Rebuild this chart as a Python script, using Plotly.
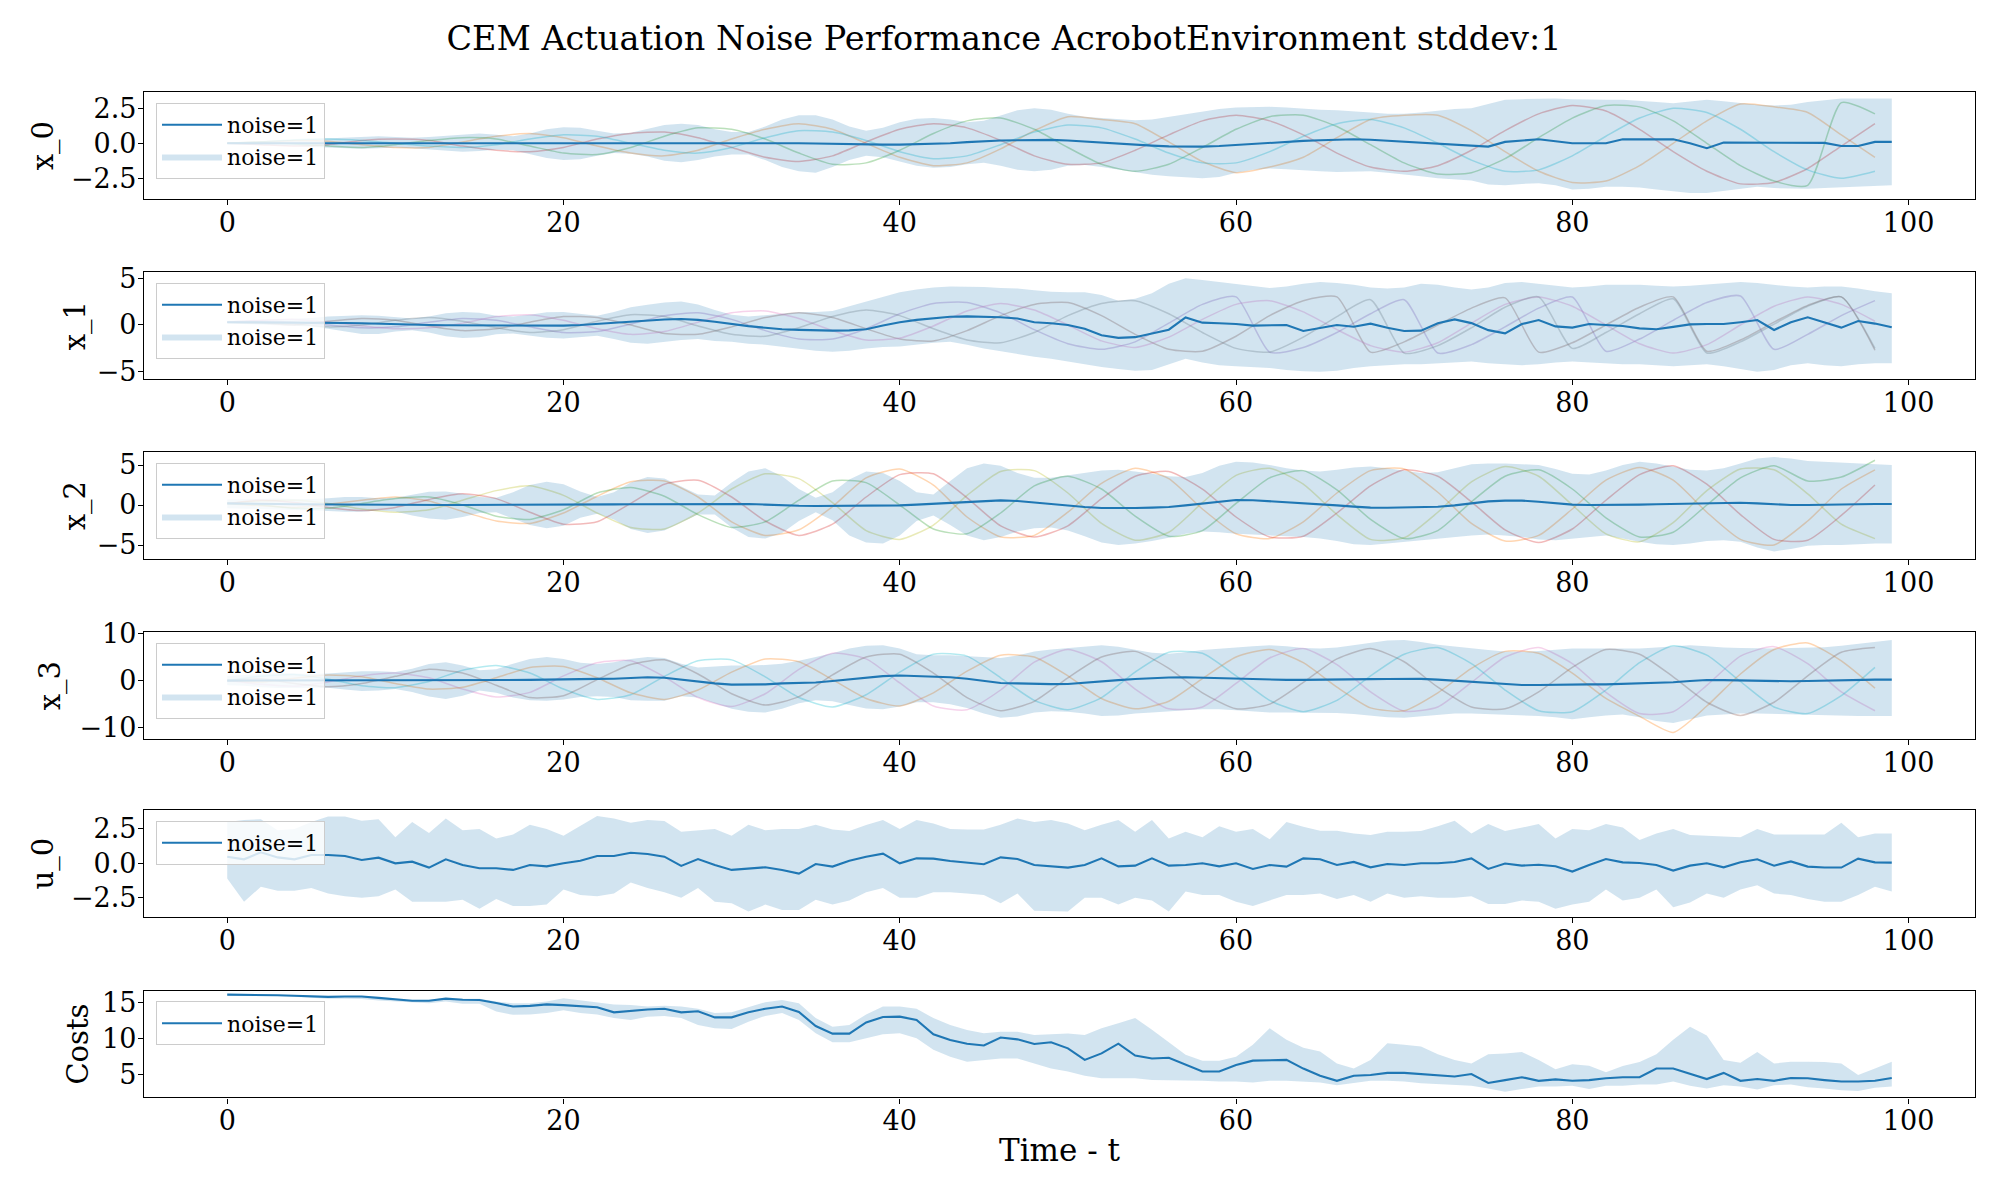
import plotly.graph_objects as go

t = list(range(100))
t2 = list(range(0, 100, 2))

# ---------------- x_0 ----------------
x0_mean = [0,0,0,0,0,0,0,0,0,0,
           0,0,0,0,0,0,0,0,0,0,
           0,0,0.02,0.03,0.04,0.05,0.05,0.05,0.05,0.05,
           0.05,0.04,0.03,0.02,0.0,-0.02,-0.05,-0.08,-0.1,-0.1,
           -0.1,-0.08,-0.05,0.0,0.08,0.15,0.2,0.22,0.24,0.24,
           0.2,0.12,0.05,-0.02,-0.1,-0.17,-0.22,-0.24,-0.24,-0.2,
           -0.12,-0.05,0.03,0.1,0.17,0.22,0.27,0.29,0.25,0.18,
           0.12,0.05,-0.05,-0.12,-0.2,-0.24,0.1,0.2,0.29,0.15,
           0.0,0.0,0.0,0.28,0.28,0.28,0.28,0.0,-0.35,0.05,
           0.05,0.05,0.05,0.05,0.05,0.03,-0.2,-0.2,0.1,0.1]
x0_upper = [0.05,0.1,0.15,0.2,0.25,0.3,0.35,0.45,0.5,0.5,
            0.45,0.4,0.45,0.55,0.65,0.7,0.6,0.5,0.7,1.0,
            1.15,1.1,0.9,0.7,0.75,1.0,1.3,1.4,1.3,1.0,
            0.8,0.8,1.2,1.7,2.0,2.0,1.7,1.2,0.9,1.1,
            1.5,1.75,1.8,1.7,1.5,1.6,2.0,2.35,2.5,2.4,
            2.1,1.9,1.8,1.7,1.65,1.7,1.9,2.1,2.3,2.45,
            2.55,2.6,2.6,2.55,2.45,2.4,2.35,2.3,2.2,2.1,
            2.1,2.2,2.35,2.45,2.5,2.8,3.1,3.15,3.2,3.2,
            3.15,3.1,3.1,3.1,3.05,2.95,2.85,3.0,3.1,3.0,
            2.85,2.75,2.7,2.75,2.95,3.1,3.2,3.2,3.2,3.2]
x0_lower = [-0.05,-0.1,-0.15,-0.2,-0.2,-0.25,-0.3,-0.35,-0.4,-0.35,
            -0.3,-0.35,-0.45,-0.55,-0.6,-0.55,-0.45,-0.5,-0.8,-1.05,
            -1.2,-1.15,-0.9,-0.7,-0.75,-0.95,-1.25,-1.35,-1.2,-0.95,
            -0.8,-0.8,-1.2,-1.7,-2.0,-2.1,-1.7,-1.2,-0.9,-1.0,
            -1.3,-1.6,-1.75,-1.7,-1.5,-1.4,-1.6,-1.9,-2.0,-1.9,
            -1.6,-1.55,-1.7,-1.9,-2.1,-2.25,-2.35,-2.45,-2.5,-2.4,
            -2.1,-1.9,-1.8,-1.85,-1.95,-2.0,-2.05,-2.0,-2.0,-2.1,
            -2.2,-2.35,-2.5,-2.6,-2.65,-2.95,-3.0,-2.9,-2.85,-3.0,
            -3.3,-3.25,-3.1,-3.1,-3.15,-3.3,-3.45,-3.55,-3.55,-3.4,
            -3.2,-3.1,-3.2,-3.25,-3.25,-3.2,-3.15,-3.1,-3.05,-3.0]
x0_runs = [
    [0,0.1,0.2,0.15,-0.1,-0.3,-0.3,0.1,0.5,0.7,
     0.4,-0.2,-0.7,-0.9,-0.5,0.3,1.0,1.4,1.0,0.0,
     -1.0,-1.6,-1.4,-0.4,0.9,1.9,1.7,1.4,0.1,-1.3,
     -2.1,-1.7,-1.0,0.4,1.7,2.0,2.0,0.9,-0.6,-2.0,
     -2.8,-2.7,-1.6,0.0,1.6,2.8,2.6,2.2,0.6,-1.0],
    [0,-0.1,-0.2,-0.1,0.2,0.3,0.2,-0.2,-0.5,-0.6,
     -0.3,0.3,0.7,0.8,0.4,-0.3,-1.0,-1.3,-0.9,0.1,
     1.0,1.4,1.1,0.2,-0.9,-1.5,-1.4,-0.5,0.6,1.6,
     2.0,1.6,0.6,-0.7,-1.7,-2.0,-1.6,-0.5,0.9,2.1,
     2.7,2.3,1.0,-0.6,-2.0,-2.9,-2.8,-1.8,-0.2,1.4],
    [0,0.05,-0.05,-0.2,-0.3,-0.1,0.2,0.4,0.3,-0.2,
     -0.7,-0.8,-0.3,0.5,1.1,1.0,0.3,-0.7,-1.5,-1.4,
     -0.5,0.7,1.6,1.8,1.0,-0.3,-1.5,-2.0,-1.5,-0.3,
     1.0,1.9,2.0,1.2,-0.1,-1.4,-2.2,-2.1,-1.1,0.4,
     1.8,2.7,2.6,1.6,0.0,-1.6,-2.7,-3.0,2.9,2.1],
    [0,0.1,0.25,0.3,0.2,0.0,-0.2,-0.3,-0.1,0.3,
     0.6,0.5,0.0,-0.5,-0.7,-0.3,0.4,0.9,0.8,0.2,
     -0.6,-1.1,-0.9,-0.1,0.8,1.3,1.1,0.3,-0.7,-1.4,
     -1.4,-0.6,0.5,1.4,1.7,1.1,0.0,-1.2,-2.0,-1.9,
     -0.9,0.5,1.8,2.5,2.2,1.0,-0.6,-1.9,-2.5,-2.0],
]

# ---------------- x_1 ----------------
x1_mean = [0.3,0.3,0.3,0.3,0.3,0.28,0.28,0.22,0.18,0.12,
           0.06,0.02,0.0,-0.02,-0.03,-0.03,-0.04,-0.05,-0.06,-0.07,
           -0.07,0.0,0.12,0.25,0.36,0.48,0.58,0.64,0.55,0.35,
           0.1,-0.12,-0.3,-0.45,-0.52,-0.57,-0.6,-0.58,-0.45,-0.05,
           0.3,0.55,0.75,0.88,0.92,0.9,0.82,0.7,0.3,0.18,
           0.0,-0.4,-1.1,-1.38,-1.3,-0.9,-0.5,0.8,0.25,0.18,
           0.1,-0.07,0.0,0.0,-0.64,-0.28,0.0,-0.18,0.14,-0.3,
           -0.64,-0.6,0.18,0.6,0.2,-0.55,-0.89,0.1,0.53,-0.15,
           -0.28,0.1,0.0,-0.1,-0.36,-0.46,-0.2,0.07,0.1,0.1,
           0.3,0.53,-0.53,0.3,0.82,0.3,-0.28,0.43,0.15,-0.25]
x1_upper = [0.45,0.5,0.55,0.6,0.65,0.75,0.9,1.0,1.05,1.0,
            0.85,0.7,0.9,1.25,1.4,1.3,1.0,0.9,1.1,1.35,
            1.4,1.2,1.0,1.4,1.9,2.15,2.4,2.5,2.2,1.6,
            1.1,0.9,1.05,1.25,1.35,1.4,1.5,2.0,2.5,3.0,
            3.5,3.8,4.0,4.1,4.1,4.05,3.95,3.9,3.7,3.55,
            3.5,3.5,3.2,2.6,2.8,3.4,4.4,5.0,4.8,4.6,
            4.4,4.2,3.95,4.1,4.4,4.6,4.5,4.3,4.0,3.9,
            4.0,4.4,4.3,4.0,3.8,4.0,4.5,4.6,4.4,4.2,
            4.0,4.1,4.3,4.3,4.3,4.2,4.1,4.2,4.35,4.5,
            4.6,4.5,4.3,4.1,4.0,4.1,4.1,3.9,3.6,3.4]
x1_lower = [0.15,0.1,0.05,0.0,-0.05,-0.15,-0.4,-0.7,-0.95,-0.95,
            -0.7,-0.55,-0.8,-1.2,-1.4,-1.3,-1.0,-0.9,-1.1,-1.35,
            -1.45,-1.3,-1.15,-1.5,-1.9,-2.0,-1.8,-1.6,-1.5,-1.7,
            -1.8,-2.0,-2.1,-2.3,-2.55,-2.75,-2.85,-2.75,-2.5,-2.35,
            -2.3,-2.1,-1.9,-1.8,-2.1,-2.5,-2.8,-3.1,-3.4,-3.6,
            -3.9,-4.2,-4.5,-4.7,-4.9,-4.8,-4.2,-3.6,-4.0,-4.3,
            -4.4,-4.5,-4.6,-4.8,-4.95,-5.0,-4.9,-4.6,-4.4,-4.3,
            -4.2,-4.2,-4.1,-4.0,-3.9,-4.1,-4.2,-4.3,-4.2,-4.0,
            -3.9,-4.0,-4.1,-4.2,-4.2,-4.3,-4.4,-4.3,-4.2,-4.4,
            -4.7,-5.0,-4.8,-4.3,-4.1,-4.3,-4.4,-4.2,-4.1,-4.1]
x1_runs = [
    [0.3,0.4,0.3,0.0,-0.3,-0.2,0.3,0.7,0.5,-0.2,
     -0.8,-0.7,0.1,1.0,1.3,0.6,-0.6,-1.5,-1.5,-0.4,
     1.2,2.3,2.4,1.3,-0.5,-2.0,-2.6,-1.8,0.2,2.2,
     3.0,-2.9,-2.4,-0.8,1.2,2.7,-3.0,-2.1,-0.2,1.8,
     3.0,-2.8,-1.5,0.5,2.4,3.1,-2.6,-1.0,1.0,2.6],
    [0.3,0.2,0.0,0.4,0.7,0.5,-0.1,-0.6,-0.4,0.3,
     0.9,0.8,0.0,-0.9,-1.0,-0.2,0.8,1.3,0.8,-0.4,
     -1.5,-1.7,-0.6,1.0,2.2,2.4,1.0,-1.0,-2.6,-2.8,
     -1.2,1.0,2.6,3.0,-2.9,-1.8,0.0,1.8,2.9,-2.9,
     -1.9,0.0,1.9,3.0,-2.8,-1.6,0.3,2.1,3.0,-2.7],
    [0.3,0.5,0.6,0.3,-0.1,-0.4,-0.3,0.2,0.9,1.1,
     0.5,-0.4,-1.0,-0.7,0.3,1.3,1.5,0.7,-0.6,-1.6,
     -1.4,-0.1,1.5,2.3,1.6,0.0,-1.7,-2.4,-1.3,0.6,
     2.2,2.6,1.4,-0.5,-2.2,-2.9,-1.9,0.2,2.2,3.0,
     2.0,0.0,-2.0,-3.0,-2.1,0.0,2.0,3.0,2.2,0.4],
    [0.3,0.3,0.1,-0.2,0.0,0.5,0.8,0.4,-0.3,-0.8,
     -0.5,0.4,1.1,0.9,-0.1,-1.0,-1.2,-0.3,0.9,1.6,
     1.0,-0.4,-1.6,-1.9,-0.8,1.0,2.3,2.6,1.2,-0.8,
     -2.5,-2.9,-1.3,0.9,2.7,-3.0,-2.2,-0.3,1.9,3.0,
     -2.5,-0.8,1.2,2.8,-3.0,-1.8,0.1,2.0,3.0,-2.5],
]

# ---------------- x_2 ----------------
x2_mean = [0.2,0.2,0.15,0.12,0.1,0.08,0.05,0.03,0.02,0.0,
           0,0,0,0,0,0,0,0.02,0.03,0.03,
           0.03,0.05,0.06,0.08,0.1,0.1,0.12,0.14,0.16,0.17,
           0.17,0.12,0.05,-0.05,-0.1,-0.12,-0.12,-0.1,-0.08,-0.05,
           -0.05,0.05,0.15,0.3,0.42,0.52,0.58,0.5,0.3,0.1,
           -0.05,-0.25,-0.38,-0.42,-0.38,-0.33,-0.25,-0.05,0.2,0.45,
           0.62,0.6,0.48,0.4,0.25,0.1,-0.05,-0.2,-0.33,-0.35,
           -0.33,-0.3,-0.22,-0.05,0.2,0.45,0.55,0.55,0.4,0.2,
           0.05,0,0,0,0.05,0.1,0.15,0.2,0.25,0.3,
           0.28,0.2,0.1,0,0,0.05,0.1,0.12,0.12,0.12]
x2_upper = [0.7,0.75,0.8,0.8,0.75,0.75,0.85,1.0,1.0,0.85,
            0.9,1.3,1.65,1.7,1.4,1.0,0.9,1.6,2.5,2.9,
            2.6,1.7,1.0,1.6,2.8,3.5,3.3,2.3,1.3,1.2,
            2.8,4.2,4.6,3.6,2.0,0.9,1.6,3.2,4.2,4.0,
            3.0,1.6,1.3,3.0,4.6,5.2,4.9,4.0,3.4,3.4,
            3.7,4.0,4.3,4.4,4.2,3.9,3.6,3.5,4.0,4.9,
            5.4,5.3,5.0,4.6,4.3,4.2,4.4,4.7,4.8,4.6,
            4.3,4.0,4.1,4.6,5.1,5.2,5.2,5.1,5.0,4.5,
            3.9,3.8,4.3,5.0,5.4,5.2,4.8,4.4,4.3,4.6,
            5.2,5.8,6.0,5.8,5.5,5.4,5.3,5.2,5.1,5.0]
x2_lower = [-0.4,-0.45,-0.5,-0.55,-0.6,-0.65,-0.75,-0.85,-0.85,-0.7,
            -0.8,-1.3,-1.7,-1.85,-1.5,-1.0,-0.9,-1.7,-2.5,-2.9,
            -2.6,-1.6,-1.1,-1.8,-3.0,-3.5,-3.2,-2.2,-1.2,-1.2,
            -2.8,-4.0,-4.2,-3.5,-2.0,-0.9,-1.9,-3.8,-4.7,-4.8,
            -3.8,-2.0,-1.3,-2.5,-3.8,-4.4,-4.0,-3.3,-2.9,-2.8,
            -3.2,-3.9,-4.7,-5.0,-4.8,-4.5,-4.1,-3.6,-3.3,-3.4,
            -3.6,-3.7,-3.8,-3.9,-4.0,-4.2,-4.5,-4.9,-5.0,-4.8,
            -4.6,-4.4,-4.2,-4.0,-3.8,-3.7,-3.8,-4.0,-4.3,-4.4,
            -4.2,-4.0,-3.8,-4.2,-4.6,-4.9,-5.0,-4.8,-4.5,-4.4,
            -4.6,-5.3,-5.8,-5.5,-5.1,-5.0,-5.0,-4.9,-4.8,-4.8]
x2_runs = [
    [0.2,0.5,0.6,0.2,-0.5,-0.9,-0.6,0.6,1.8,2.4,
     1.2,-1.0,-2.8,-3.0,-1.0,2.0,3.9,3.3,0.3,-3.2,
     -4.3,-2.5,1.2,4.2,4.3,1.5,-2.3,-4.4,-3.4,0.3,
     3.7,4.6,2.6,-1.2,-4.3,-4.1,-0.9,2.9,4.8,3.6,
     0.0,-3.6,-4.6,-2.2,1.8,4.5,4.4,1.4,-2.4,-4.2],
    [0.2,-0.1,-0.3,0.1,0.6,1.0,0.5,-0.8,-2.0,-2.3,
     -1.0,1.1,2.9,3.0,1.0,-2.1,-3.8,-3.1,-0.2,3.4,
     4.5,2.5,-1.5,-4.0,-3.8,-0.9,2.7,4.6,3.3,-0.5,
     -3.6,-4.2,-2.1,1.5,4.3,4.5,1.6,-2.3,-4.5,-3.8,
     -0.5,3.1,4.7,3.1,-0.9,-4.3,-5.0,-2.0,2.0,4.4],
    [0.2,0.6,0.3,-0.3,-0.7,-0.3,0.7,1.4,0.8,-0.9,
     -2.4,-2.1,0.2,2.6,3.1,1.0,-2.0,-3.8,-2.4,1.0,
     3.8,3.9,0.9,-2.6,-4.0,-2.6,0.8,3.6,4.2,2.0,
     -1.5,-4.0,-3.9,-1.0,2.4,4.4,3.6,0.4,-3.1,-4.7,
     -3.0,0.6,3.8,4.9,2.6,-1.2,-4.3,-4.4,-1.3,2.5],
    [0.2,0.0,-0.4,-0.4,0.2,0.8,1.0,0.0,-1.4,-1.8,
     -0.6,1.5,2.2,1.1,-1.2,-2.8,-2.1,0.6,3.0,2.8,
     0.0,-3.0,-3.6,-1.0,2.4,3.6,2.0,-1.4,-3.9,-3.2,
     0.2,3.4,4.3,1.9,-1.8,-4.2,-3.2,0.4,3.6,4.4,
     2.0,-1.6,-4.0,-3.4,0.0,3.4,4.9,3.0,3.5,5.6],
]

# ---------------- x_3 ----------------
x3_mean = [0,0,0,0,0,0,0,0,0,0,
           0,0,0,0,0,0,0.05,0.1,0.15,0.2,
           0.3,0.35,0.36,0.4,0.55,0.7,0.6,0.2,-0.3,-0.6,
           -0.85,-0.9,-0.8,-0.6,-0.5,-0.4,-0.1,0.3,0.7,0.95,
           1.07,1.0,0.85,0.7,0.4,0.0,-0.5,-0.6,-0.7,-0.75,
           -0.72,-0.5,-0.2,0.1,0.35,0.55,0.65,0.7,0.6,0.45,
           0.36,0.3,0.2,0.15,0.15,0.15,0.15,0.2,0.3,0.35,
           0.36,0.36,0.2,0.0,-0.2,-0.4,-0.7,-0.93,-0.95,-0.85,
           -0.8,-0.8,-0.8,-0.7,-0.55,-0.5,-0.35,-0.1,0.14,0.1,
           0,-0.1,-0.15,-0.15,-0.1,0,0,0.1,0.2,0.2]
x3_upper = [1.0,1.2,1.4,1.6,1.5,1.4,1.5,1.8,2.0,2.0,
            1.8,2.5,3.5,3.9,3.2,2.2,2.4,3.6,4.6,5.0,
            4.6,3.8,3.5,3.9,4.6,5.0,4.8,3.6,2.8,3.0,
            3.2,3.2,3.3,3.6,4.2,5.0,5.8,6.8,7.4,7.5,
            6.8,5.6,5.4,5.4,5.2,4.9,4.8,5.3,6.2,6.6,
            6.9,7.3,7.5,7.2,6.5,5.9,5.7,6.0,6.5,6.8,
            7.0,7.3,7.5,7.3,6.9,6.8,7.0,7.5,8.0,8.5,
            8.6,8.2,7.6,7.2,6.8,6.5,6.2,6.1,6.3,6.6,
            6.8,6.8,6.8,6.8,6.8,7.0,7.3,7.5,7.3,7.0,
            6.9,6.8,6.8,6.9,7.0,7.1,7.4,7.8,8.3,8.6]
x3_lower = [-1.0,-1.1,-1.4,-1.6,-1.6,-1.5,-1.5,-1.9,-2.2,-2.1,
            -1.8,-2.4,-3.4,-3.9,-3.2,-2.1,-2.6,-3.6,-4.2,-4.3,
            -4.0,-3.5,-3.3,-3.5,-4.2,-4.3,-4.3,-3.3,-3.6,-4.8,
            -6.0,-6.6,-6.8,-6.0,-4.8,-4.2,-4.4,-5.2,-5.9,-6.1,
            -5.5,-4.6,-4.6,-5.0,-5.8,-7.0,-7.9,-7.6,-6.8,-6.5,
            -6.6,-7.0,-7.5,-7.4,-7.0,-6.8,-6.5,-6.3,-6.1,-6.1,
            -6.3,-6.6,-6.8,-6.8,-6.8,-6.8,-6.9,-7.1,-7.4,-7.8,
            -7.9,-7.6,-7.3,-7.0,-7.0,-7.1,-7.2,-7.3,-7.5,-7.8,
            -8.2,-7.8,-7.4,-7.2,-7.8,-8.6,-9.0,-8.2,-7.4,-7.2,
            -7.0,-7.0,-7.1,-7.2,-7.3,-7.4,-7.5,-7.5,-7.5,-7.5]
x3_runs = [
    [0.0,-0.8,-1.2,-0.3,1.0,1.6,0.6,-1.8,-3.5,-2.5,
     1.0,3.8,4.2,0.8,-3.6,-5.5,-2.8,2.4,5.8,4.6,
     -0.5,-5.4,-6.2,-2.0,3.9,6.6,4.0,-1.8,-6.0,-5.6,
     -0.6,4.8,6.8,3.4,-2.4,-6.5,-5.6,-0.4,5.0,7.0,
     3.6,-2.5,-7.0,-6.6,-1.0,5.2,7.2,3.6,-2.4,-6.4],
    [0.0,0.9,1.3,0.3,-1.1,-1.5,-0.2,2.2,3.2,1.6,
     -1.8,-4.0,-3.0,0.9,4.2,4.4,0.8,-3.6,-5.6,-3.0,
     1.8,5.6,5.2,0.6,-4.2,-6.2,-3.6,1.8,6.0,5.8,
     1.0,-4.2,-6.6,-4.2,1.0,5.6,7.0,3.6,-2.0,-6.4,
     -6.6,-2.0,3.8,7.4,5.4,-0.2,-5.6,-7.0,-3.2,2.8],
    [0.0,0.4,-0.6,-1.3,-0.6,0.9,2.4,1.6,-1.0,-3.6,
     -3.2,0.2,3.4,4.4,1.4,-2.8,-5.2,-3.4,1.2,5.0,
     5.6,1.6,-3.6,-6.4,-4.4,0.6,5.0,6.2,2.6,-2.6,
     -6.0,-5.0,-0.4,4.6,6.8,4.0,-1.4,-5.6,-6.0,-2.4,
     2.8,6.6,5.6,0.8,-4.6,-7.4,-4.6,1.0,6.0,7.0],
    [0.0,-0.3,0.5,1.2,0.8,-0.6,-1.8,-1.4,0.6,2.8,
     3.0,0.6,-2.6,-4.0,-2.0,1.8,4.6,4.0,0.2,-3.8,
     -5.4,-2.6,2.0,5.4,5.0,1.0,-3.8,-6.0,-4.4,0.4,
     5.0,6.6,3.8,-1.4,-5.8,-6.4,-2.6,2.6,6.2,5.8,
     1.6,-3.8,-7.6,-11.0,-5.4,1.4,6.6,8.0,4.2,-1.6],
]

# ---------------- u_0 ----------------
u0_mean = [0.48,0.29,0.8,0.43,0.29,0.6,0.6,0.53,0.24,0.41,
           0.0,0.12,-0.31,0.29,-0.12,-0.36,-0.36,-0.48,-0.12,-0.22,
           0.0,0.19,0.53,0.53,0.77,0.68,0.48,-0.19,0.31,-0.12,
           -0.48,-0.36,-0.29,-0.48,-0.75,-0.05,-0.24,0.19,0.48,0.7,
           0.0,0.36,0.34,0.17,0.07,-0.07,0.43,0.31,-0.12,-0.19,
           -0.31,-0.12,0.36,-0.22,-0.17,0.36,-0.17,-0.12,0.0,-0.22,
           0.0,-0.41,-0.12,-0.24,0.36,0.29,-0.12,0.1,-0.29,-0.05,
           -0.12,0.0,0.0,0.1,0.36,-0.41,-0.02,-0.17,-0.1,-0.22,
           -0.6,-0.12,0.31,0.07,0.02,-0.12,-0.53,-0.17,0.0,-0.29,
           0.07,0.29,-0.17,0.14,-0.24,-0.31,-0.31,0.34,0.07,0.05]
u0_upper = [3.0,3.14,3.2,2.4,2.5,3.0,3.4,3.4,3.1,3.2,
            1.9,3.0,2.2,3.26,2.4,2.5,1.8,2.1,2.8,2.5,
            2.0,2.7,3.43,3.26,2.95,3.14,3.07,2.3,2.4,2.5,
            2.0,2.8,2.4,2.5,2.5,2.8,2.46,2.34,2.78,3.14,
            2.5,3.14,2.9,2.5,2.46,2.46,2.8,3.26,3.0,3.14,
            2.9,2.4,2.8,3.14,2.3,3.14,1.8,2.3,1.9,2.7,
            2.3,2.5,1.74,3.0,2.66,2.37,2.37,2.17,2.05,2.3,
            2.3,2.35,2.7,3.1,2.17,2.85,2.34,2.58,2.85,1.8,
            2.5,2.4,2.85,2.6,1.7,2.17,2.5,2.05,2.0,2.0,
            1.9,2.5,2.1,2.1,2.1,2.1,2.95,1.9,2.17,2.17]
u0_lower = [-1.1,-2.8,-1.7,-2.0,-2.0,-1.8,-2.2,-2.4,-2.5,-2.4,
            -1.9,-2.8,-2.8,-2.8,-2.65,-3.3,-2.6,-3.1,-3.1,-3.0,
            -1.9,-2.3,-2.4,-2.2,-1.4,-1.8,-2.1,-2.5,-1.8,-2.8,
            -2.9,-3.5,-3.0,-3.4,-3.4,-2.65,-3.0,-2.7,-2.1,-1.8,
            -2.5,-2.5,-2.1,-2.1,-2.2,-2.3,-2.9,-2.2,-3.45,-3.45,
            -3.5,-2.5,-2.5,-3.0,-2.5,-2.7,-3.5,-2.05,-2.3,-2.3,
            -2.8,-3.1,-2.7,-2.3,-2.3,-2.2,-2.6,-2.3,-2.8,-2.2,
            -2.5,-2.4,-2.5,-2.5,-2.4,-2.95,-2.95,-2.7,-2.8,-3.3,
            -3.0,-2.8,-1.9,-2.7,-2.5,-1.9,-3.2,-2.85,-2.2,-2.5,
            -1.9,-1.6,-2.2,-2.3,-2.6,-2.8,-2.8,-2.3,-1.7,-2.05]

# ---------------- Costs ----------------
cost_mean = [16.06,16.05,16.05,15.97,15.9,15.8,15.75,15.8,15.8,15.6,
             15.4,15.2,15.2,15.5,15.35,15.3,14.9,14.4,14.5,14.7,
             14.6,14.45,14.3,13.6,13.85,14.0,14.1,13.6,13.75,12.9,
             12.9,13.6,14.1,14.4,13.65,11.7,10.65,10.65,12.2,12.95,
             13.0,12.55,10.55,9.75,9.25,9.0,10.1,9.85,9.2,9.45,
             8.6,7.0,7.9,9.25,7.6,7.2,7.3,6.4,5.4,5.4,
             6.3,6.9,6.9,7.0,5.8,4.8,4.1,4.8,4.9,5.2,
             5.2,5.05,4.8,4.7,5.05,3.8,4.2,4.6,4.1,4.3,
             4.1,4.2,4.45,4.6,4.6,5.8,5.8,5.1,4.35,5.2,
             4.1,4.35,4.1,4.5,4.45,4.2,4.0,4.0,4.1,4.5]
cost_upper = [16.1,16.1,16.1,16.02,15.95,15.85,15.8,15.85,15.85,15.65,
              15.45,15.25,15.3,15.6,15.5,15.5,15.1,14.85,14.85,15.1,
              15.55,15.3,15.0,14.7,14.6,14.4,14.5,14.4,14.1,13.5,
              13.6,14.25,15.0,15.3,14.85,12.8,11.6,11.85,13.3,14.4,
              14.4,14.1,12.8,11.85,11.15,10.7,10.9,10.9,10.45,10.55,
              10.65,10.45,11.4,12.1,12.8,11.2,9.5,7.7,6.9,6.9,
              7.45,9.1,11.4,9.8,8.7,8.15,6.5,5.8,7.0,9.3,
              9.1,8.85,7.8,7.0,6.5,7.8,7.9,8.1,7.0,5.7,
              6.4,6.2,5.3,6.15,6.7,7.8,9.8,11.6,10.4,7.0,
              6.6,8.1,6.5,6.75,6.75,6.7,6.5,4.9,5.8,6.75]
cost_lower = [15.95,15.95,15.95,15.85,15.75,15.6,15.5,15.5,15.45,15.25,
              15.1,14.9,14.85,15.1,14.8,14.8,13.7,13.25,13.3,13.5,
              13.9,13.5,13.3,12.8,12.55,13.0,13.1,12.8,11.85,11.4,
              11.3,12.3,13.1,13.5,12.55,10.7,9.45,9.45,10.0,10.55,
              10.7,10.0,8.4,7.45,6.75,7.0,7.2,7.2,6.5,5.8,
              5.4,4.8,4.45,4.45,4.45,4.2,4.2,4.2,4.1,4.0,
              4.0,3.85,4.1,4.1,4.0,3.85,3.5,3.85,4.1,4.1,
              4.0,3.75,3.6,3.5,3.4,3.05,2.6,2.95,3.3,3.3,
              3.4,2.95,3.4,3.4,3.6,3.6,4.0,3.4,3.05,3.5,
              3.3,2.9,3.5,3.6,3.2,3.05,2.8,2.7,3.15,3.3]

panel_labels = ["x_0", "x_1", "x_2", "x_3", "u_0", "Costs"]
x_ticks = [0, 20, 40, 60, 80, 100]
y_ticks = [[-2.5, 0, 2.5], [-5, 0, 5], [-5, 0, 5], [-10, 0, 10], [-2.5, 0, 2.5], [5, 10, 15]]
y_ticktext = [["\u22122.5", "0.0", "2.5"], ["\u22125", "0", "5"], ["\u22125", "0", "5"],
              ["\u221210", "0", "10"], ["\u22122.5", "0.0", "2.5"], ["5", "10", "15"]]
y_ranges = [[-3.98, 3.64], [-5.77, 5.63], [-6.75, 6.59], [-12.4, 10.25], [-3.9, 3.85], [1.8, 16.6]]

title_text = "CEM Actuation Noise Performance AcrobotEnvironment stddev:1"
series_name = "noise=1"

FONT = "DejaVu Serif"
C0 = "#1f77b4"
BAND = "rgba(31,119,180,0.2)"
run_colors = [
    ["#ff7f0e", "#d62728", "#2ca02c", "#17becf"],
    ["#9467bd", "#8c564b", "#e377c2", "#7f7f7f"],
    ["#bcbd22", "#ff7f0e", "#d62728", "#2ca02c"],
    ["#e377c2", "#17becf", "#8c564b", "#ff7f0e"],
]

def rgba(hexc, a):
    h = hexc.lstrip("#")
    return "rgba(%d,%d,%d,%.2f)" % (int(h[0:2], 16), int(h[2:4], 16), int(h[4:6], 16), a)

means = [x0_mean, x1_mean, x2_mean, x3_mean, u0_mean, cost_mean]
uppers = [x0_upper, x1_upper, x2_upper, x3_upper, u0_upper, cost_upper]
lowers = [x0_lower, x1_lower, x2_lower, x3_lower, u0_lower, cost_lower]
runs = [x0_runs, x1_runs, x2_runs, x3_runs, None, None]

# geometry: pixel positions in the 2000x1200 target; the page body adds an 8px offset
W, H = 2000, 1200
OFF = 8
def px(x):
    return (x - OFF) / W
def py(y):
    return 1 - (y - OFF) / H

x_dom = [px(144), px(1975)]
tops = [92.3, 272.3, 452.3, 632.3, 810.3, 990.7]
ph = 106.7
ytitle_standoff = [8, 2, 2, 10, 8, 4]

fig = go.Figure()
layout = dict(
    width=W, height=H,
    margin=dict(l=0, r=0, t=0, b=0, autoexpand=False),
    paper_bgcolor="white", plot_bgcolor="white",
    font=dict(family=FONT, color="black", size=27),
    title=dict(text=title_text, x=px(1004), xanchor="center", y=py(38.5), yanchor="middle",
               font=dict(family=FONT, size=33.5, color="black")),
    hovermode=False,
)

for i in range(6):
    n = "" if i == 0 else str(i + 1)
    xa, ya = "x" + n, "y" + n
    leg = "legend" + n
    show_band_legend = i < 4
    if runs[i] is not None:
        for k, r in enumerate(runs[i]):
            fig.add_trace(go.Scatter(x=t2, y=r, mode="lines", xaxis=xa, yaxis=ya,
                                     line=dict(color=rgba(run_colors[i][k], 0.32), width=1.5, shape="spline",
                                               smoothing=0.6),
                                     showlegend=False, legend=leg))
    fig.add_trace(go.Scatter(x=t, y=lowers[i], mode="lines", xaxis=xa, yaxis=ya,
                             line=dict(width=0, color=BAND), showlegend=False, legend=leg))
    fig.add_trace(go.Scatter(x=t, y=uppers[i], mode="lines", xaxis=xa, yaxis=ya,
                             fill="tonexty", fillcolor=BAND, line=dict(width=0, color=BAND),
                             name=series_name, showlegend=show_band_legend, legend=leg, legendrank=2))
    fig.add_trace(go.Scatter(x=t, y=means[i], mode="lines", xaxis=xa, yaxis=ya,
                             line=dict(color=C0, width=2.1), name=series_name,
                             showlegend=True, legend=leg, legendrank=1))

    top = tops[i]
    dom_y = [py(top + ph), py(top)]
    axis_common = dict(showline=True, linecolor="black", linewidth=1.3, mirror=True,
                       ticks="outside", ticklen=5, tickwidth=1.2, tickcolor="black",
                       showgrid=False, zeroline=False, automargin=False,
                       tickfont=dict(family=FONT, size=27, color="black"))
    layout["xaxis" + n] = dict(domain=x_dom, anchor=ya, range=[-4.95, 103.95],
                               tickvals=x_ticks, ticktext=[str(v) for v in x_ticks],
                               ticklabelstandoff=-6, **axis_common)
    layout["yaxis" + n] = dict(domain=dom_y, anchor=xa, range=y_ranges[i],
                               tickvals=y_ticks[i], ticktext=y_ticktext[i],
                               ticklabelstandoff=-4,
                               title=dict(text=panel_labels[i], standoff=ytitle_standoff[i],
                                          font=dict(family=FONT, size=29, color="black")),
                               **axis_common)
    layout[leg] = dict(x=px(156), y=py(top + 10.7), xanchor="left", yanchor="top",
                       bgcolor="rgba(255,255,255,0.8)", bordercolor="#cccccc", borderwidth=1,
                       font=dict(family=FONT, size=22, color="black"), itemwidth=60,
                       traceorder="normal")

layout["xaxis6"]["title"] = dict(text="Time - t", standoff=4,
                                 font=dict(family=FONT, size=31, color="black"))

fig.update_layout(**layout)
fig.write_html("out.html")
